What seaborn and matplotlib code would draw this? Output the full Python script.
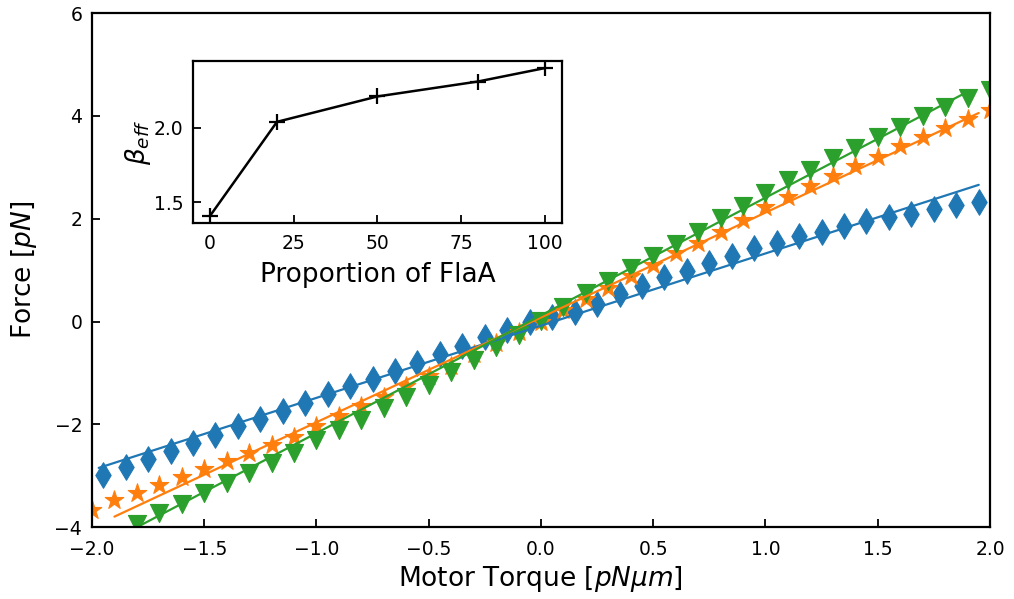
import numpy as np
import pandas as pd
import matplotlib
matplotlib.use("Agg")
import matplotlib.pyplot as plt
import seaborn as sns

# ---------------- data ----------------
blue_x = [-1.95, -1.85, -1.75, -1.65, -1.55, -1.45, -1.35, -1.25, -1.15, -1.05,
          -0.95, -0.85, -0.75, -0.65, -0.55, -0.45, -0.35, -0.25, -0.15, -0.05,
          0.05, 0.15, 0.25, 0.35, 0.45, 0.55, 0.65, 0.75, 0.85, 0.95,
          1.05, 1.15, 1.25, 1.35, 1.45, 1.55, 1.65, 1.75, 1.85, 1.95]
blue_y = [-2.98, -2.83, -2.67, -2.52, -2.36, -2.20, -2.04, -1.89, -1.74, -1.58,
          -1.41, -1.26, -1.11, -0.96, -0.80, -0.63, -0.47, -0.31, -0.16, 0.00,
          0.08, 0.19, 0.34, 0.53, 0.70, 0.86, 0.99, 1.14, 1.28, 1.43,
          1.53, 1.67, 1.74, 1.85, 1.95, 2.03, 2.10, 2.19, 2.27, 2.32]

orange_x = [-2.0, -1.9, -1.8, -1.7, -1.6, -1.5, -1.4, -1.3, -1.2, -1.1,
            -1.0, -0.9, -0.8, -0.7, -0.6, -0.5, -0.4, -0.3, -0.2, -0.1,
            0.0, 0.1, 0.2, 0.3, 0.4, 0.5, 0.6, 0.7, 0.8, 0.9,
            1.0, 1.1, 1.2, 1.3, 1.4, 1.5, 1.6, 1.7, 1.8, 1.9, 2.0]
orange_y = [-3.66, -3.48, -3.34, -3.18, -3.03, -2.87, -2.72, -2.55, -2.40, -2.24,
            -2.04, -1.84, -1.65, -1.46, -1.26, -1.06, -0.86, -0.64, -0.42, -0.20,
            0.00, 0.23, 0.43, 0.66, 0.88, 1.10, 1.33, 1.53, 1.75, 1.97,
            2.22, 2.43, 2.63, 2.83, 3.02, 3.21, 3.42, 3.60, 3.76, 3.94, 4.11]

green_x = [-1.8, -1.7, -1.6, -1.5, -1.4, -1.3, -1.2, -1.1,
           -1.0, -0.9, -0.8, -0.7, -0.6, -0.5, -0.4, -0.3, -0.2, -0.1,
           0.0, 0.1, 0.2, 0.3, 0.4, 0.5, 0.6, 0.7, 0.8, 0.9,
           1.0, 1.1, 1.2, 1.3, 1.4, 1.5, 1.6, 1.7, 1.8, 1.9, 2.0]
green_y = [-3.93, -3.73, -3.55, -3.34, -3.14, -2.95, -2.75, -2.55,
           -2.30, -2.11, -1.91, -1.69, -1.47, -1.23, -0.99, -0.75, -0.50, -0.26,
           0.01, 0.29, 0.55, 0.78, 1.04, 1.28, 1.51, 1.75, 2.01, 2.24,
           2.51, 2.76, 2.95, 3.18, 3.37, 3.60, 3.79, 3.99, 4.18, 4.35, 4.51]

# linear fits (slope, intercept, x-range) per series
fit_slope = [1.405, 2.04, 2.29]
fit_intercept = [-0.08, 0.08, 0.12]
fit_x_start = [-1.97, -1.90, -1.90]
fit_x_end = [1.95, 1.95, 1.90]

series_names = ["blue", "orange", "green"]
series_colors = ["#1f77b4", "#ff7f0e", "#2ca02c"]
series_markers = ["d", "*", "v"]

# inset data
proportion_flaA = [0, 20, 50, 80, 100]
beta_eff = [1.41, 2.04, 2.21, 2.31, 2.40]

x_ticks = [-2.0, -1.5, -1.0, -0.5, 0.0, 0.5, 1.0, 1.5, 2.0]
y_ticks = [-4, -2, 0, 2, 4, 6]
inset_x_ticks = [0, 25, 50, 75, 100]
inset_y_ticks = [1.5, 2.0]

# ---------------- plotting ----------------
sns.set_theme(style="white")
plt.rcParams["font.family"] = ["DejaVu Sans"]
plt.rcParams["mathtext.fontset"] = "dejavusans"
plt.rcParams["text.color"] = "black"
plt.rcParams["axes.labelcolor"] = "black"
plt.rcParams["xtick.color"] = "black"
plt.rcParams["ytick.color"] = "black"

fig = plt.figure(figsize=(10.14, 5.99), dpi=100)
ax = fig.add_axes([0.0907, 0.120, 0.8856, 0.858])

xs = [blue_x, orange_x, green_x]
ys = [blue_y, orange_y, green_y]
sizes = [13.0, 14.0, 13.0]

for i in range(3):
    df = pd.DataFrame({"x": xs[i], "y": ys[i]})
    sns.scatterplot(data=df, x="x", y="y", ax=ax, color=series_colors[i],
                    marker=series_markers[i], s=sizes[i] ** 2,
                    edgecolor=series_colors[i], linewidth=0.8, legend=False,
                    zorder=1)

for i in range(3):
    fx = np.array([fit_x_start[i], fit_x_end[i]])
    fy = fit_slope[i] * fx + fit_intercept[i]
    dfl = pd.DataFrame({"x": fx, "y": fy})
    sns.lineplot(data=dfl, x="x", y="y", ax=ax, color=series_colors[i],
                 linewidth=1.6, legend=False, zorder=2)

ax.set_xlim(-2.0, 2.0)
ax.set_ylim(-4, 6)
ax.set_xticks(x_ticks)
ax.set_yticks(y_ticks)
ax.set_xlabel("Motor Torque [$pN\\mu m$]", fontsize=19, labelpad=3.5)
ax.set_ylabel("Force [$pN$]", fontsize=19, labelpad=11)
ax.tick_params(axis="x", direction="in", length=6, width=1.3,
               labelsize=13.5, bottom=True, top=False,
               colors="black", labelcolor="black", pad=9.5)
ax.tick_params(axis="y", direction="in", length=6, width=1.3,
               labelsize=13.5, left=True, right=False,
               colors="black", labelcolor="black", pad=7)
for sp in ax.spines.values():
    sp.set_visible(True)
    sp.set_color("black")
    sp.set_linewidth(1.6)
ax.grid(False)

# inset
axin = fig.add_axes([0.1906, 0.6272, 0.3633, 0.2715])
dfi = pd.DataFrame({"p": proportion_flaA, "b": beta_eff})
sns.lineplot(data=dfi, x="p", y="b", ax=axin, color="black", linewidth=1.8,
             marker="+", markersize=12, markeredgewidth=1.6,
             markeredgecolor="black", legend=False)
axin.set_xticks(inset_x_ticks)
axin.set_yticks(inset_y_ticks)
axin.set_yticklabels([f"{v:.1f}" for v in inset_y_ticks])
axin.set_xlabel("Proportion of FlaA", fontsize=19, labelpad=6)
axin.set_ylabel("$\\beta_{eff}$", fontsize=19, labelpad=1)
axin.tick_params(axis="x", direction="in", length=6, width=1.3,
                 labelsize=13.5, bottom=True, top=False,
                 colors="black", labelcolor="black", pad=8)
axin.tick_params(axis="y", direction="in", length=6, width=1.3,
                 labelsize=13.5, left=True, right=False,
                 colors="black", labelcolor="black", pad=7)
for sp in axin.spines.values():
    sp.set_visible(True)
    sp.set_color("black")
    sp.set_linewidth(1.6)
axin.grid(False)

fig.savefig("out.png", dpi=100)
